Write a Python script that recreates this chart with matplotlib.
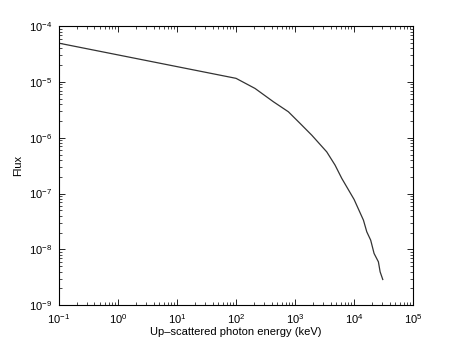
import numpy as np
import matplotlib
matplotlib.use('Agg')
from matplotlib import pyplot as plt
from matplotlib.ticker import NullFormatter

# energy (keV) and flux
energy = [0.1, 100, 210, 430, 770, 1220, 1920, 3440, 4760, 6180, 10000,
          14400, 16400, 19100, 21800, 25800, 27600, 30600]
flux = [4.95e-5, 1.16e-5, 7.64e-6, 4.41e-6, 2.92e-6, 1.80e-6, 1.11e-6,
        5.58e-7, 3.23e-7, 1.87e-7, 7.83e-8, 3.33e-8, 2.06e-8, 1.46e-8,
        8.43e-9, 5.97e-9, 3.95e-9, 2.88e-9]

plt.rcParams['font.family'] = ['Liberation Sans', 'DejaVu Sans']
plt.rcParams['mathtext.fontset'] = 'custom'
plt.rcParams['mathtext.rm'] = 'Liberation Sans'
plt.rcParams['mathtext.it'] = 'Liberation Sans'

fig = plt.figure(figsize=(4.57, 3.44), dpi=100)
ax = fig.add_axes([0.129, 0.113, 0.775, 0.811])
ax.loglog(energy, flux, color='#333333', lw=0.9)
ax.set_xlim(1e-1, 1e5)
ax.set_ylim(1e-9, 1e-4)
ax.xaxis.set_minor_formatter(NullFormatter())
ax.yaxis.set_minor_formatter(NullFormatter())
ax.set_xlabel('Up\u2013scattered photon energy (keV)', fontsize=8, labelpad=1)
ax.set_ylabel('Flux', fontsize=8, labelpad=4)
ax.tick_params(which='both', direction='in', top=True, right=True, labelsize=8)
ax.tick_params(which='major', length=4, width=0.6, pad=5)
ax.tick_params(which='minor', length=2, width=0.5)
for s in ax.spines.values():
    s.set_linewidth(0.8)

plt.savefig('out.png', dpi=100)
